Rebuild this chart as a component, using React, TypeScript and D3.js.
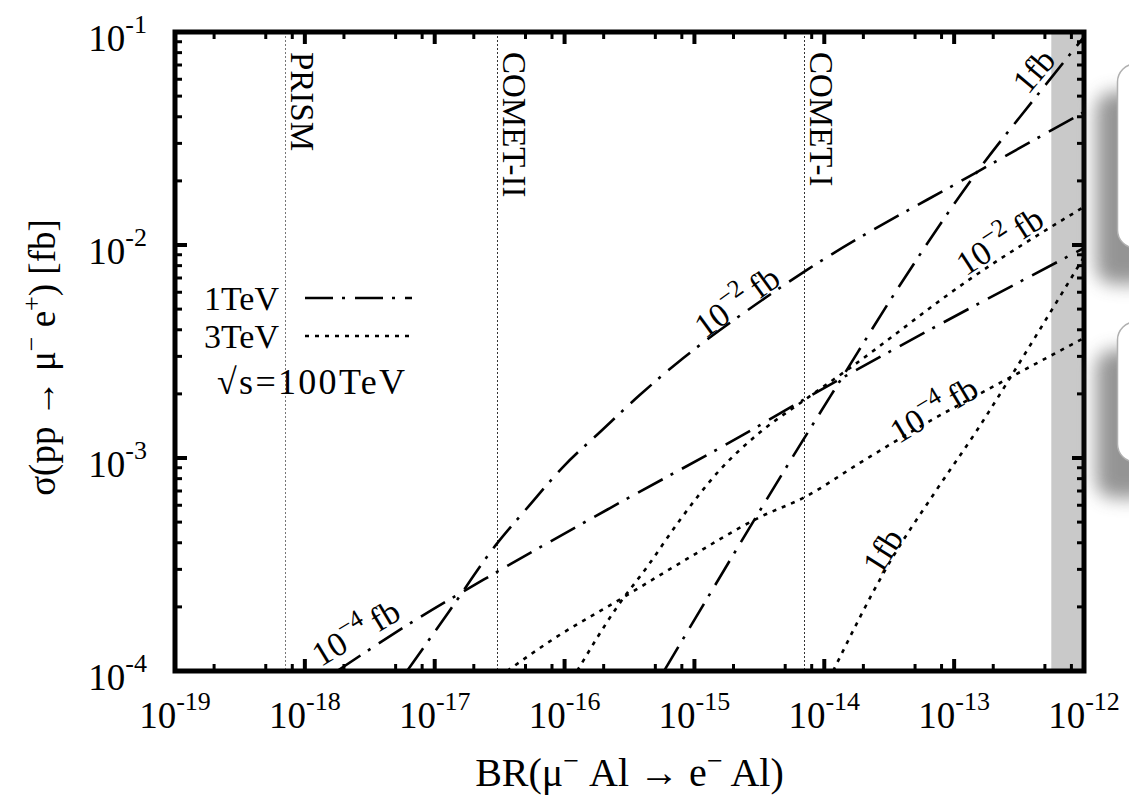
import React, { useEffect, useRef } from "react";
import * as d3 from "d3";

const W = 1129;
const H = 798;
// plot frame (page pixels)
const ML = 175;
const MR = 1084;
const MT = 32;
const MB = 671;
const FONT = "'Liberation Serif', 'Times New Roman', serif";

// axes
const xDecades = [-19, -18, -17, -16, -15, -14, -13, -12];
const yDecades = [-4, -3, -2, -1];
const xMinor = [2, 5, 8];
const yMinor = [2, 3, 4, 5, 6, 7, 8, 9];

// experimental sensitivities (vertical lines) and excluded region
const experiments = ["PRISM", "COMET-II", "COMET-I"];
const experimentBR = [7e-19, 3e-17, 7e-15];
const excludedFromBR = 5.6e-13;

// 1 TeV curves (dash-dot)
const tev1_1fb_BR = [5.83e-16, 6.73e-15, 1.32e-14, 3.83e-14, 1.5e-13, 4.2e-13, 1e-12];
const tev1_1fb_sigma = [1e-4, 1.19e-3, 2.3e-3, 6.49e-3, 2.2e-2, 4.9e-2, 9.48e-2];

const tev1_1em2_BR = [6.12e-18, 1.31e-17, 2.96e-17, 5.32e-17, 9.55e-17, 1.94e-16, 3.81e-16, 8.17e-16, 2.45e-15, 7.36e-15, 1.5e-13, 1e-12];
const tev1_1em2_sigma = [1e-4, 1.93e-4, 3.91e-4, 5.96e-4, 8.97e-4, 1.35e-3, 1.98e-3, 2.94e-3, 4.84e-3, 7.64e-3, 2.2e-2, 4.21e-2];

const tev1_1em4_BR = [1.77e-18, 7.71e-18, 3.02e-17, 2.24e-16, 2.24e-15, 6.85e-15, 1e-12];
const tev1_1em4_sigma = [1e-4, 1.79e-4, 2.92e-4, 5.82e-4, 1.26e-3, 1.87e-3, 9.68e-3];

// 3 TeV curves (dotted)
const tev3_1fb_BR = [1.17e-14, 3.04e-14, 7.38e-14, 1.5e-13, 2.55e-13, 5.47e-13, 1e-12];
const tev3_1fb_sigma = [1e-4, 3.08e-4, 7.14e-4, 1.35e-3, 2.25e-3, 4.8e-3, 8.79e-3];

const tev3_1em2_BR = [1.25e-16, 2.54e-16, 4.32e-16, 7.74e-16, 1.57e-15, 3.2e-15, 6.85e-15, 1.5e-14, 1.4e-13, 1e-12];
const tev3_1em2_sigma = [1e-4, 2.0e-4, 3.08e-4, 5.12e-4, 8.79e-4, 1.32e-3, 1.85e-3, 2.59e-3, 7.08e-3, 1.51e-2];

const tev3_1em4_BR = [3.61e-17, 8.75e-17, 2.54e-16, 7.74e-16, 3.2e-15, 7.1e-15, 1.88e-14, 5.75e-14, 2.25e-13, 1e-12];
const tev3_1em4_sigma = [1e-4, 1.45e-4, 2.13e-4, 3.21e-4, 5.28e-4, 6.56e-4, 9.48e-4, 1.43e-3, 2.25e-3, 3.66e-3];

// curve labels: mantissa/exponent text and anchor point
const labelBase = ["10", "10", "1fb", "10", "10", "1fb"];
const labelExp = ["−4", "−2", "", "−2", "−4", ""];
const labelBR = [2.48e-18, 2.13e-15, 4.12e-13, 2.25e-13, 7.0e-14, 2.83e-14];
const labelSigma = [1.51e-4, 5.4e-3, 6.56e-2, 1.04e-2, 1.68e-3, 3.66e-4];
const labelAngle = [-31, -36, -50, -33, -31, -58];

const legendLabels = ["1TeV", "3TeV"];

const DASHDOT = "28,9,3,10";
const DOTTED = "4,6";

const App = () => {
    const svgRef = useRef<SVGSVGElement>(null);

    useEffect(() => {
        if (!svgRef.current) return;
        const svg = d3.select(svgRef.current);
        svg.selectAll("*").remove();

        const x = d3.scaleLog().domain([1e-19, 1e-12]).range([ML, MR]);
        const y = d3.scaleLog().domain([1e-4, 1e-1]).range([MB, MT]);

        svg.append("rect").attr("width", W).attr("height", H).attr("fill", "#fff");

        const defs = svg.append("defs");
        defs.append("clipPath").attr("id", "plotClip")
            .append("rect").attr("x", ML).attr("y", MT).attr("width", MR - ML).attr("height", MB - MT);
        defs.append("filter").attr("id", "blur").attr("x", "-50%").attr("y", "-50%").attr("width", "200%").attr("height", "200%")
            .append("feGaussianBlur").attr("stdDeviation", 9);

        // ── Excluded band ─────────────────────────────────────────────
        svg.append("rect")
            .attr("x", x(excludedFromBR)).attr("y", MT)
            .attr("width", MR - x(excludedFromBR)).attr("height", MB - MT)
            .attr("fill", "#c9c9c9");

        // ── Experiment lines ──────────────────────────────────────────
        experiments.forEach((name, i) => {
            const px = Math.round(x(experimentBR[i])) + 0.5;
            svg.append("line")
                .attr("x1", px).attr("x2", px).attr("y1", MT).attr("y2", MB)
                .attr("stroke", i === 0 ? "#777" : "#333").attr("stroke-width", 1)
                .attr("stroke-dasharray", "2,2");
            svg.append("text")
                .attr("transform", `translate(${px + 5},${MT + 20}) rotate(90)`)
                .attr("font-family", FONT).attr("font-size", 33)
                .attr("fill", "#000")
                .text(name);
        });

        // ── Curves ────────────────────────────────────────────────────
        const line = d3.line<[number, number]>().x(d => x(d[0])).y(d => y(d[1])).curve(d3.curveMonotoneX);
        const curves: [number[], number[], string][] = [
            [tev1_1fb_BR, tev1_1fb_sigma, DASHDOT],
            [tev1_1em2_BR, tev1_1em2_sigma, DASHDOT],
            [tev1_1em4_BR, tev1_1em4_sigma, DASHDOT],
            [tev3_1fb_BR, tev3_1fb_sigma, DOTTED],
            [tev3_1em2_BR, tev3_1em2_sigma, DOTTED],
            [tev3_1em4_BR, tev3_1em4_sigma, DOTTED],
        ];
        const cg = svg.append("g").attr("clip-path", "url(#plotClip)");
        curves.forEach(([bx, sy, dash]) => {
            const pts = bx.map((b, i) => [b, sy[i]] as [number, number]);
            cg.append("path")
                .attr("d", line(pts))
                .attr("fill", "none")
                .attr("stroke", "#000")
                .attr("stroke-width", 2.6)
                .attr("stroke-dasharray", dash);
        });

        // ── Curve labels ──────────────────────────────────────────────
        labelBase.forEach((base, i) => {
            const t = svg.append("text")
                .attr("transform", `translate(${x(labelBR[i])},${y(labelSigma[i])}) rotate(${labelAngle[i]})`)
                .attr("text-anchor", "middle")
                .attr("dy", "0.33em")
                .attr("font-family", FONT).attr("font-size", 34)
                .attr("fill", "#000");
            t.append("tspan").text(base);
            if (labelExp[i]) {
                t.append("tspan").attr("dy", -15).attr("font-size", 25).text(labelExp[i]);
                t.append("tspan").attr("dy", 15).text("\u2009fb");
            }
        });

        // ── Legend ────────────────────────────────────────────────────
        legendLabels.forEach((lab, i) => {
            const by = 310 + i * 38;
            svg.append("text")
                .attr("x", 279).attr("y", by)
                .attr("text-anchor", "end")
                .attr("font-family", FONT).attr("font-size", 34)
                .text(lab);
            svg.append("line")
                .attr("x1", 305).attr("x2", 412).attr("y1", by - 12).attr("y2", by - 12)
                .attr("stroke", "#000").attr("stroke-width", 2.6)
                .attr("stroke-dasharray", i === 0 ? DASHDOT : DOTTED);
        });
        svg.append("text")
            .attr("x", 217).attr("y", 394)
            .attr("font-family", FONT).attr("font-size", 36)
            .attr("textLength", 188).attr("lengthAdjust", "spacing")
            .text("√s=100TeV");

        // ── Ticks ─────────────────────────────────────────────────────
        const tg = svg.append("g").attr("stroke", "#000");
        xDecades.forEach((d, di) => {
            const vals = [{ v: Math.pow(10, d), major: true }];
            if (di < xDecades.length - 1) xMinor.forEach(m => vals.push({ v: m * Math.pow(10, d), major: false }));
            vals.forEach(({ v, major }) => {
                const px = x(v);
                const len = major ? 12 : 7;
                const sw = major ? 4 : 3;
                tg.append("line").attr("x1", px).attr("x2", px).attr("y1", MB).attr("y2", MB - len).attr("stroke-width", sw);
                tg.append("line").attr("x1", px).attr("x2", px).attr("y1", MT).attr("y2", MT + len).attr("stroke-width", sw);
            });
        });
        yDecades.forEach((d, di) => {
            const vals = [{ v: Math.pow(10, d), major: true }];
            if (di < yDecades.length - 1) yMinor.forEach(m => vals.push({ v: m * Math.pow(10, d), major: false }));
            vals.forEach(({ v, major }) => {
                const py = y(v);
                const len = major ? 12 : 7;
                const sw = major ? 4 : 3;
                tg.append("line").attr("x1", ML).attr("x2", ML + len).attr("y1", py).attr("y2", py).attr("stroke-width", sw);
                tg.append("line").attr("x1", MR).attr("x2", MR - len).attr("y1", py).attr("y2", py).attr("stroke-width", sw);
            });
        });

        // ── Frame ─────────────────────────────────────────────────────
        svg.append("rect")
            .attr("x", ML).attr("y", MT).attr("width", MR - ML).attr("height", MB - MT)
            .attr("fill", "none").attr("stroke", "#000").attr("stroke-width", 5);

        // ── Tick labels ───────────────────────────────────────────────
        xDecades.forEach(d => {
            const t = svg.append("text")
                .attr("x", x(Math.pow(10, d))).attr("y", 728)
                .attr("text-anchor", "middle")
                .attr("font-family", FONT).attr("font-size", 37);
            t.append("tspan").text("10");
            t.append("tspan").attr("dy", -18).attr("font-size", 26).text(`${d}`);
        });
        yDecades.forEach(d => {
            const t = svg.append("text")
                .attr("x", 147).attr("y", y(Math.pow(10, d)) + 19)
                .attr("text-anchor", "end")
                .attr("font-family", FONT).attr("font-size", 37);
            t.append("tspan").text("10");
            t.append("tspan").attr("dy", -18).attr("font-size", 26).text(`${d}`);
        });

        // ── Axis titles ───────────────────────────────────────────────
        const xt = svg.append("text")
            .attr("x", (ML + MR) / 2).attr("y", 786)
            .attr("text-anchor", "middle")
            .attr("font-family", FONT).attr("font-size", 40);
        xt.append("tspan").text("BR(μ");
        xt.append("tspan").attr("dy", -16).attr("font-size", 28).text("−");
        xt.append("tspan").attr("dy", 16).text(" Al → e");
        xt.append("tspan").attr("dy", -16).attr("font-size", 28).text("−");
        xt.append("tspan").attr("dy", 16).text(" Al)");

        const yt = svg.append("text")
            .attr("transform", `translate(55,${(MT + MB) / 2 + 6}) rotate(-90)`)
            .attr("text-anchor", "middle")
            .attr("font-family", FONT).attr("font-size", 37);
        yt.append("tspan").text("σ(pp → μ");
        yt.append("tspan").attr("dy", -15).attr("font-size", 26).text("−");
        yt.append("tspan").attr("dy", 15).text(" e");
        yt.append("tspan").attr("dy", -15).attr("font-size", 26).text("+");
        yt.append("tspan").attr("dy", 15).text(") [fb]");

        // ── Overlapping panels at the right edge ─────────────────────
        const panels = [{ y0: 64, h: 184 }, { y0: 322, h: 140 }];
        panels.forEach(p => {
            svg.append("rect")
                .attr("x", 1096).attr("y", p.y0 + 28).attr("width", 80).attr("height", p.h + 8)
                .attr("rx", 18).attr("fill", "#7a7a7a").attr("opacity", 0.8)
                .attr("filter", "url(#blur)");
            svg.append("rect")
                .attr("x", 1117.5).attr("y", p.y0).attr("width", 60).attr("height", p.h)
                .attr("rx", 18).attr("fill", "#fff").attr("stroke", "#b0b0b0").attr("stroke-width", 1.5);
        });
    }, []);

    return (
        <svg
            ref={svgRef}
            width={W}
            height={H}
            style={{ position: "absolute", left: 0, top: 0, display: "block" }}
        />
    );
};

export default App;
